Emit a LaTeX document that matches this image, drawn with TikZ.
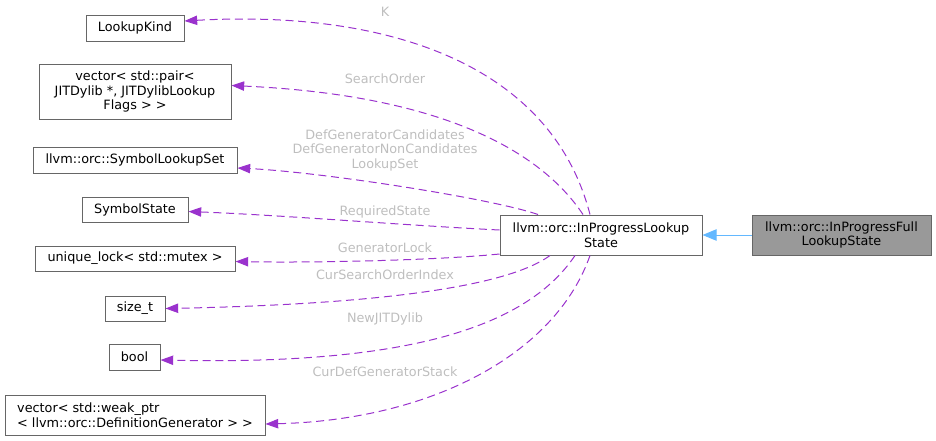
\documentclass[tikz,border=0pt]{standalone}
\usepackage{fontspec}
\setmainfont{DejaVu Sans}
\usetikzlibrary{arrows.meta,calc}
\definecolor{edgeborder}{HTML}{666666}
\definecolor{memberedge}{HTML}{9A32CD}
\definecolor{memberlabel}{HTML}{BEBEBE}
\definecolor{inheritedge}{HTML}{63B8FF}
\definecolor{selffill}{HTML}{999999}
\tikzset{
  cls/.style 2 args={draw=edgeborder, line width=0.75pt, inner sep=0pt,
    minimum width=#1*0.75pt, minimum height=#2*0.75pt, align=center},
  member/.style={draw=memberedge, line width=0.75pt, dash pattern=on 6pt off 3.5pt,
    -{Triangle[length=9.5pt,width=7pt]}},
  lbl/.style={text=memberlabel, inner sep=0pt, align=center}
}
\begin{document}
\begin{tikzpicture}[x=0.75pt, y=-0.75pt, font=\fontsize{9.6}{10.9}\selectfont]
\useasboundingbox (0,0) rectangle (936,440);
% member types on the left
\node[cls={98}{26}] (lk) at (135,28) {LookupKind};
\node[cls={192}{55}] (vp) at (135,91.5) {vector< std::pair<\\ JITDylib *, JITDylibLookup\\Flags > >};
\node[cls={204}{26}] (sls) at (135,160) {llvm::orc::SymbolLookupSet};
\node[cls={106}{25}] (ss) at (135,209.5) {SymbolState};
\node[cls={200}{25}] (ul) at (135,258.5) {unique\_lock< std::mutex >};
\node[cls={60}{25}] (sz) at (135,308.5) {size\_t};
\node[cls={51}{26}] (bl) at (134.5,357) {bool};
\node[cls={260}{40}, align=left] (vwp) at (135,415) {vector< std::weak\_ptr\\< llvm::orc::DefinitionGenerator > >};
% the two classes
\node[cls={202}{40}] (ipl) at (601,235) {llvm::orc::InProgressLookup\\State};
\node[cls={179}{40}, fill=selffill] (ipfl) at (841.5,235) {llvm::orc::InProgressFull\\LookupState};
\draw[inheritedge, line width=0.75pt, -{Triangle[length=10.5pt,width=8.5pt]}] (ipfl.west) -- (ipl.east);
% members
\draw[member] ($(ipl.north)+(-11,0)$) .. controls (550,60) and (380,10) .. ($(lk.east)+(0,-7)$);
\draw[member] ($(ipl.north)+(-18,0)$) .. controls (540,150) and (440,95) .. ($(vp.east)+(0,-6)$);
\draw[member] ($(ipl.north)+(-63,0)$) .. controls (490,198) and (320,172) .. ($(sls.east)+(0,8)$);
\draw[member] ($(ipl.west)+(0,-5)$) .. controls (400,225) and (280,215) .. ($(ss.east)+(0,2)$);
\draw[member] ($(ipl.west)+(0,19)$) .. controls (440,260) and (320,263) .. ($(ul.east)+(0,3)$);
\draw[member] ($(ipl.south)+(-51,0)$) .. controls (500,292) and (340,305) .. (sz.east);
\draw[member] ($(ipl.south)+(-26,0)$) .. controls (525,330) and (400,365) .. ($(bl.east)+(0,3)$);
\draw[member] ($(ipl.south)+(-11,0)$) .. controls (555,355) and (430,420) .. ($(vwp.east)+(0,9)$);
% member labels
\node[lbl] (lK) at (385,12) {K};
\node[lbl] (lSO) at (385,79) {SearchOrder};
\node[lbl] (lLS) at (385,150) {DefGeneratorCandidates\\DefGeneratorNonCandidates\\LookupSet};
\node[lbl] (lRS) at (385,212) {RequiredState};
\node[lbl] (lGL) at (385,248) {GeneratorLock};
\node[lbl] (lCSO) at (385,275) {CurSearchOrderIndex};
\node[lbl] (lNJ) at (385,319) {NewJITDylib};
\node[lbl] (lCDG) at (385,372) {CurDefGeneratorStack};
\end{tikzpicture}
\end{document}
